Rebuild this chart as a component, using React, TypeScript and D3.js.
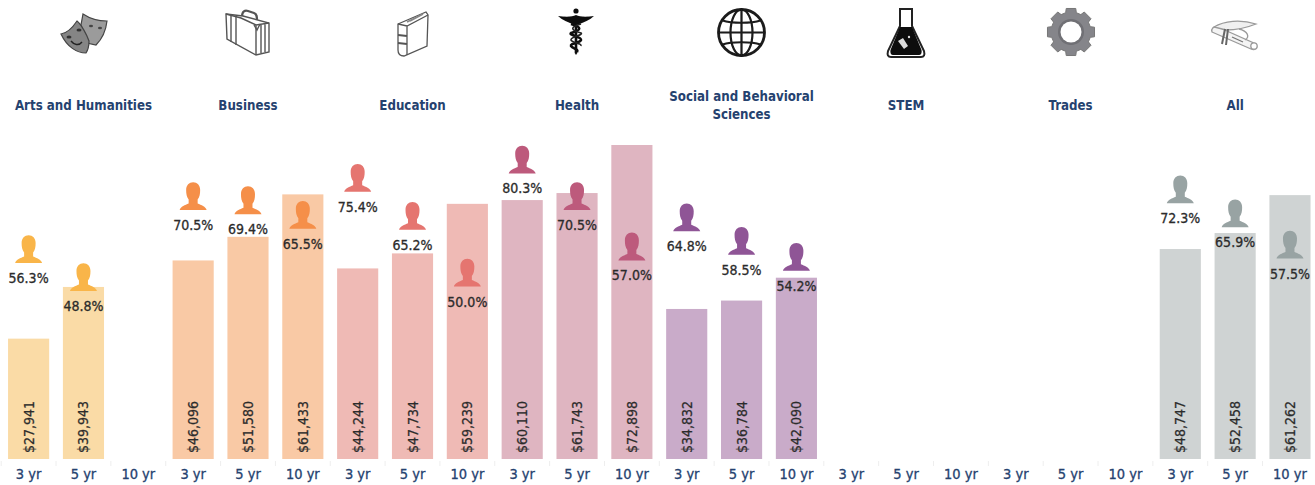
import * as d3 from "d3";
import React from "react";

const W = 1315;
const H = 485;

const categories = ["Arts and Humanities", "Business", "Education", "Health", "Social and Behavioral Sciences", "STEM", "Trades", "All"];
const periods = ["3 yr", "5 yr", "10 yr"];

const barColors = ["#fadba6", "#f9c9a5", "#efbab5", "#dfb5c1", "#c9abc9", "#ddd", "#ddd", "#cfd3d3"];
const personColors = ["#f9b549", "#f58f49", "#e5756f", "#bd5a7c", "#8f5596", "#999", "#999", "#98a3a3"];

const income: (number | null)[][] = [
  [27941, 39943, null],
  [46096, 51580, 61433],
  [44244, 47734, 59239],
  [60110, 61743, 72898],
  [34832, 36784, 42090],
  [null, null, null],
  [null, null, null],
  [48747, 52458, 61262],
];
const employed: (number | null)[][] = [
  [56.3, 48.8, null],
  [70.5, 69.4, 65.5],
  [75.4, 65.2, 50.0],
  [80.3, 70.5, 57.0],
  [64.8, 58.5, 54.2],
  [null, null, null],
  [null, null, null],
  [72.3, 65.9, 57.5],
];

const slots = categories.flatMap((_, c) => periods.map((_, p) => `${c}-${p}`));
const x = d3.scaleBand(slots, [1.2, 1317.4]).paddingInner(0.25).paddingOuter(0.125);
const y = d3.scaleLinear([0, 72898], [459, 145]);
const yPct = d3.scaleLinear([0, 100], [473, 100]);

const FONT = "'DejaVu Sans Condensed', 'DejaVu Sans', sans-serif";
const NAVY = "#25426f";
const INK = "#2b2b2b";

const Person = ({ cx, base, fill }: { cx: number; base: number; fill: string }) => (
  <g transform={`translate(${cx},${base})`} fill={fill} filter="url(#soft)">
    <path d="M-13.5,0 C-12.5,-3.5 -8,-5 -4.5,-6.5 L-4.5,-10.5 C-6.5,-13 -7,-16 -7,-20 C-7,-25 -4,-27.8 0,-27.8 C4,-27.8 7,-25 7,-20 C7,-16 6.5,-13 4.5,-10.5 L4.5,-6.5 C8,-5 12.5,-3.5 13.5,0 Z" />
  </g>
);

const Masks = () => (
  <g filter="url(#soft)" stroke="#444" strokeWidth={1.2}>
    <path d="M0,-19 C6,-15 15,-12 24,-12 C23,-3 19,6 13,12 L4,10 L-2,-8 Z" fill="#9b9b9b" />
    <path d="M-22,1 C-16,0 -10,-6 -6,-12 C-2,-9 4,2 6,8 C6,13 5,17 3,20 C-6,20 -16,14 -22,1 Z" fill="#858585" />
    <path d="M-12,8 C-9,12 -4,13 -1,9" fill="none" stroke="#222" strokeWidth={1.4} />
    <ellipse cx={-14} cy={4} rx={2.5} ry={1.5} fill="#333" stroke="none" />
    <ellipse cx={-4} cy={-3} rx={2.5} ry={1.5} fill="#333" stroke="none" />
    <ellipse cx={8} cy={-7} rx={2} ry={1.3} fill="#444" stroke="none" />
    <ellipse cx={17} cy={-5} rx={2} ry={1.3} fill="#444" stroke="none" />
  </g>
);

const Briefcase = () => (
  <g filter="url(#soft)" fill="#fff" stroke="#555" strokeWidth={1.4}>
    <path d="M-6,-16 C-6,-22 -3,-23 0,-22 L6,-20 C9,-19 9,-16 9,-12" fill="none" strokeWidth={2.2} />
    <path d="M-22,-19 L-5,-17 L21,-10 L21,19 L8,22 L-21,6 Z" />
    <path d="M-17,-18 L-17,9 M-12,-17 L-12,12" />
    <path d="M-22,-19 L-7,-15 L8,-8 L21,-10 M8,-8 L8,22 M13,-8 L13,20 M17,-9 L17,19" fill="none" />
    <path d="M6,-8 L9,-3 L12,-9" fill="none" />
  </g>
);

const Book = () => (
  <g filter="url(#soft)" fill="#fff" stroke="#555" strokeWidth={1.3}>
    <path d="M-15,-9 L13,-21 L15,-18 L14,13 L-9,23 C-13,23 -15,21 -15,17 Z" />
    <path d="M-15,-9 L-6,-7 L15,-18 M-6,-7 L-6,22" fill="none" />
    <path d="M-15,2 L-6,3 M-15,10 L-6,11" fill="none" strokeWidth={2} />
    <path d="M-6,-11 L8,-18 M-3,-12 L10,-19" fill="none" stroke="#888" strokeWidth={1.8} />
  </g>
);

const Caduceus = () => (
  <g filter="url(#soft)" fill="#111" stroke="none">
    <circle cx={0} cy={-20} r={2.6} />
    <path d="M-18,-15 C-10,-14 -4,-14 0,-16 C4,-14 10,-14 18,-15 C14,-11 8,-9 1,-6 L-1,-6 C-8,-9 -14,-11 -18,-15 Z" />
    <path d="M-1.3,-10 L1.3,-10 L1.3,22 L0,24 L-1.3,22 Z" />
    <path d="M-5,-7 C6,-4 6,-1 -5,2 C-8,4 6,6 5,9 C4,12 -6,12 -5,15 C-3,18 3,18 1,21" fill="none" stroke="#111" strokeWidth={2.6} />
    <path d="M5,-7 C-6,-4 -6,-1 5,2 C8,4 -6,6 -5,9 C-4,12 6,12 5,15" fill="none" stroke="#222" strokeWidth={1.6} />
  </g>
);

const Globe = () => (
  <g filter="url(#soft)" fill="none" stroke="#1a1a1a" strokeWidth={2.2}>
    <circle r={23} strokeWidth={2.8} />
    <ellipse rx={11} ry={23} />
    <path d="M0,-23 V23 M-23,0 H23" />
    <path d="M-19,-12 C-10,-9 10,-9 19,-12 M-19,12 C-10,9 10,9 19,12" />
  </g>
);

const Flask = () => (
  <g filter="url(#soft)">
    <path d="M-7,-24 L7,-24 M-6,-24 L-6,-7 L-18,18 C-19,22 -18,24 -15,24 L15,24 C18,24 19,22 18,18 L6,-7 L6,-24" fill="#fff" stroke="#222" strokeWidth={2} />
    <path d="M-6,-6 L6,-6 L15.5,17 C16,20 15,22 13,22 L-13,22 C-15,22 -16,20 -15.5,17 Z" fill="#0a0a0a" />
    <path d="M-8,8 L-3,5 L2,13 L-2,16 Z" fill="#ddd" />
    <circle cx={3} cy={4} r={1.2} fill="#ddd" />
  </g>
);

const gearPath = () => {
  const teeth = 8;
  const pts: [number, number][] = [];
  for (let i = 0; i < teeth; i++) {
    const a = (i / teeth) * 2 * Math.PI;
    const s = 0.2;
    pts.push([a - s * 1.35, 20], [a - s, 24], [a + s, 24], [a + s * 1.35, 20]);
  }
  return d3.lineRadial().curve(d3.curveLinearClosed)(pts) || "";
};

const Gear = () => (
  <g filter="url(#soft)">
    <path d={gearPath()} fill="#85858a" stroke="#777" strokeLinejoin="round" />
    <circle r={13} fill="#6f6f74" />
    <circle r={10.5} fill="#fff" />
  </g>
);

const Cap = () => (
  <g filter="url(#soft)" fill="#fff" stroke="#9a9a9a" strokeWidth={1.3}>
    <path d="M-22,-3 L17,14 C21,16 24,13 22,9 L-16,-8 C-21,-9 -23,-6 -22,-3 Z" fill="#f4f4f4" />
    <path d="M-20,-8 C-10,-14 6,-16 22,-11 C12,-7 2,-5 -8,-5 Z" fill="#f0f0f0" />
    <path d="M-9,-6 L-12,9 M-6,-6 L-8,10" stroke="#666" strokeWidth={2} fill="none" />
    <path d="M5,-6 C14,-4 16,2 11,5" fill="none" />
    <path d="M-2,2 L9,7" fill="none" stroke="#777" />
    <circle cx={20} cy={11} r={3.2} />
  </g>
);

const icons: [React.FC, number, number][] = [
  [Masks, 83, 33],
  [Briefcase, 248, 33],
  [Book, 413, 33],
  [Caduceus, 576, 31],
  [Globe, 741.5, 32.5],
  [Flask, 906, 33],
  [Gear, 1071, 32],
  [Cap, 1234, 35],
];

export default function App() {
  return (
    <svg width={W} height={H} style={{ position: "absolute", left: 0, top: 0 }} fontFamily={FONT}>
      <defs>
        <filter id="soft" x="-20%" y="-20%" width="140%" height="140%">
          <feGaussianBlur stdDeviation={0.5} />
        </filter>
      </defs>

      {icons.map(([Icon, ix, iy], i) => (
        <g key={i} transform={`translate(${ix},${iy})`}>
          <Icon />
        </g>
      ))}

      {categories.map((name, c) => {
        const cx = (x(`${c}-1`) as number) + x.bandwidth() / 2;
        const two = name.startsWith("Social");
        return (
          <text key={name} x={cx} y={110} textAnchor="middle" fontSize={13.2} fontWeight="bold" fill={NAVY}>
            {two ? (
              <>
                <tspan x={cx} y={101}>Social and Behavioral</tspan>
                <tspan x={cx} y={119}>Sciences</tspan>
              </>
            ) : name}
          </text>
        );
      })}

      {categories.map((_, c) =>
        periods.map((_, p) => {
          const v = income[c][p];
          if (v === null) return null;
          const bx = x(`${c}-${p}`) as number;
          return (
            <rect key={`${c}-${p}`} x={bx} y={y(v)} width={x.bandwidth()} height={y(0) - y(v)} fill={barColors[c]} />
          );
        })
      )}

      {categories.map((_, c) =>
        periods.map((_, p) => {
          const v = employed[c][p];
          if (v === null) return null;
          const cx = (x(`${c}-${p}`) as number) + x.bandwidth() / 2;
          const base = yPct(v);
          return (
            <g key={`${c}-${p}`}>
              <Person cx={cx} base={base} fill={personColors[c]} />
              <text x={cx} y={base + 20} textAnchor="middle" fontSize={14} fill={INK} stroke={INK} strokeWidth={0.3}>
                {v.toFixed(1)}%
              </text>
            </g>
          );
        })
      )}

      {categories.map((_, c) =>
        periods.map((_, p) => {
          const v = income[c][p];
          if (v === null) return null;
          const cx = (x(`${c}-${p}`) as number) + x.bandwidth() / 2;
          return (
            <text key={`${c}-${p}`} transform={`translate(${cx + 5},453) rotate(-90)`} fontSize={14.5} textLength={52} lengthAdjust="spacingAndGlyphs" fill={INK} stroke={INK} strokeWidth={0.25}>
              {d3.format("$,")(v)}
            </text>
          );
        })
      )}

      {slots.map((s) => {
        const bx = (x(s) as number) - x.step() * 0.125;
        return <line key={s} x1={bx} x2={bx} y1={461} y2={466} stroke="#eee" />;
      })}
      {categories.map((_, c) =>
        periods.map((label, p) => (
          <text key={`${c}-${p}`} x={(x(`${c}-${p}`) as number) + x.bandwidth() / 2} y={479} textAnchor="middle" fontSize={14.5} fill={NAVY} stroke={NAVY} strokeWidth={0.3}>
            {label}
          </text>
        ))
      )}
    </svg>
  );
}
